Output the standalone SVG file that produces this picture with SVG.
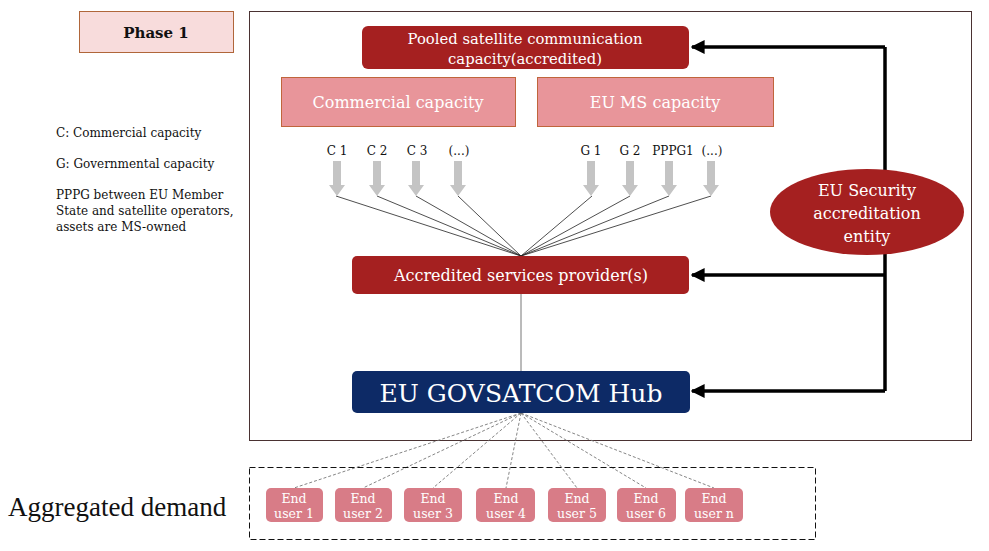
<svg xmlns="http://www.w3.org/2000/svg" width="989" height="551" viewBox="0 0 989 551">
<defs>
<style>
.serif{font-family:"DejaVu Serif","Liberation Serif",serif;}
.times{font-family:"Liberation Serif",serif;}
.wt{fill:#ffffff;text-anchor:middle;}
.dark{fill:#a52020;}
.pink{fill:#e8959a;stroke:#c0653c;stroke-width:1;}
.eu{fill:#d87c87;}
.lab{font-family:"DejaVu Serif","Liberation Serif",serif;font-size:12px;fill:#111;}
.leg{font-family:"DejaVu Serif","Liberation Serif",serif;font-size:12px;fill:#111;}
.fan{stroke:#222;stroke-width:0.8;fill:none;}
.dash{stroke:#777;stroke-width:0.9;stroke-dasharray:3,2;fill:none;}
.acc{stroke:#000;stroke-width:3.5;fill:none;}
</style>
<marker id="ah" viewBox="0 0 10 10" refX="9" refY="5" markerWidth="4" markerHeight="4" orient="auto-start-reverse" markerUnits="strokeWidth">
<path d="M0,0 L10,5 L0,10 z" fill="#000"/>
</marker>
<path id="garrow" d="M-4,0 L4,0 L4,24 L8,24 L0,35 L-8,24 L-4,24 z" fill="#c4c4c4"/>
</defs>
<rect width="989" height="551" fill="#ffffff"/>

<g id="phase">
<rect x="79.5" y="11.5" width="154" height="41" fill="#f8dcdc" stroke="#b0663a" stroke-width="1"/>
<text x="156" y="38" class="serif" font-size="15" font-weight="bold" text-anchor="middle" fill="#111">Phase 1</text>
</g>

<g id="frame">
<rect x="249.5" y="11.5" width="722" height="429" fill="none" stroke="#4a3232" stroke-width="1"/>
</g>

<g id="legend">
<text x="56" y="137" class="leg">C: Commercial capacity</text>
<text x="56" y="168" class="leg">G: Governmental capacity</text>
<text x="56" y="199" class="leg">PPPG between EU Member</text>
<text x="56" y="215" class="leg">State and satellite operators,</text>
<text x="56" y="231" class="leg">assets are MS-owned</text>
</g>

<g id="connectors">
<path class="fan" d="M336,196 L521,256 M377,196 L521,256 M416,196 L521,256 M458,196 L521,256 M592,196 L521,256 M630,196 L521,256 M669,196 L521,256 M711,196 L521,256"/>
<line x1="521" y1="294" x2="521" y2="371" stroke="#777" stroke-width="1"/>
<path class="dash" d="M521,413 L294,488 M521,413 L363,488 M521,413 L433,488 M521,413 L506,488 M521,413 L577,488 M521,413 L646,488 M521,413 L714,488"/>
<path class="acc" d="M885,47 L885,391"/>
<path class="acc" d="M885,47 L692,47" marker-end="url(#ah)"/>
<path class="acc" d="M885,275 L692,275" marker-end="url(#ah)"/>
<path class="acc" d="M885,391 L692,391" marker-end="url(#ah)"/>
</g>

<g id="pooled">
<rect x="362" y="26" width="327" height="43" rx="6" class="dark"/>
<text x="525" y="44" class="serif wt" font-size="14.8">Pooled satellite communication</text>
<text x="525" y="64" class="serif wt" font-size="14.8">capacity(accredited)</text>
</g>

<g id="commercial">
<rect x="281.5" y="77.5" width="234" height="49" class="pink"/>
<text x="398" y="108" class="serif wt" font-size="16">Commercial capacity</text>
</g>

<g id="eums">
<rect x="537.5" y="77.5" width="236" height="49" class="pink"/>
<text x="655" y="108" class="serif wt" font-size="16">EU MS capacity</text>
</g>

<g id="sources">
<text x="337" y="155" class="lab" text-anchor="middle">C 1</text>
<text x="377" y="155" class="lab" text-anchor="middle">C 2</text>
<text x="417" y="155" class="lab" text-anchor="middle">C 3</text>
<text x="459" y="155" class="lab" text-anchor="middle">(...)</text>
<text x="591" y="155" class="lab" text-anchor="middle">G 1</text>
<text x="630" y="155" class="lab" text-anchor="middle">G 2</text>
<text x="673" y="155" class="lab" text-anchor="middle">PPPG1</text>
<text x="712" y="155" class="lab" text-anchor="middle">(...)</text>
<use href="#garrow" x="337" y="161"/>
<use href="#garrow" x="377" y="161"/>
<use href="#garrow" x="416" y="161"/>
<use href="#garrow" x="458" y="161"/>
<use href="#garrow" x="591" y="161"/>
<use href="#garrow" x="630" y="161"/>
<use href="#garrow" x="669" y="161"/>
<use href="#garrow" x="711" y="161"/>
</g>

<g id="provider">
<rect x="352" y="256" width="337" height="38" rx="5" class="dark"/>
<text x="521" y="281" class="serif wt" font-size="16">Accredited services provider(s)</text>
</g>

<g id="hub">
<rect x="352" y="371" width="338" height="42" rx="5" fill="#0d2a66"/>
<text x="521" y="402" class="serif wt" font-size="25">EU GOVSATCOM Hub</text>
</g>

<g id="security">
<ellipse cx="867" cy="212" rx="97" ry="43" class="dark"/>
<text x="867" y="196" class="serif wt" font-size="16">EU Security</text>
<text x="867" y="219" class="serif wt" font-size="16">accreditation</text>
<text x="867" y="242" class="serif wt" font-size="16">entity</text>
</g>

<g id="demand">
<rect x="249.5" y="467.5" width="566" height="72" fill="none" stroke="#111" stroke-width="1" stroke-dasharray="6,3"/>
<text x="8" y="516" class="times" font-size="27" fill="#111">Aggregated demand</text>
</g>

<g id="u1"><rect x="266" y="488" width="57" height="34" rx="5" class="eu"/><text x="294" y="503" class="serif wt" font-size="12.5">End</text><text x="294" y="518" class="serif wt" font-size="12.5">user 1</text></g>
<g id="u2"><rect x="335" y="488" width="57" height="34" rx="5" class="eu"/><text x="363" y="503" class="serif wt" font-size="12.5">End</text><text x="363" y="518" class="serif wt" font-size="12.5">user 2</text></g>
<g id="u3"><rect x="404" y="488" width="58" height="34" rx="5" class="eu"/><text x="433" y="503" class="serif wt" font-size="12.5">End</text><text x="433" y="518" class="serif wt" font-size="12.5">user 3</text></g>
<g id="u4"><rect x="476" y="488" width="59" height="34" rx="5" class="eu"/><text x="506" y="503" class="serif wt" font-size="12.5">End</text><text x="506" y="518" class="serif wt" font-size="12.5">user 4</text></g>
<g id="u5"><rect x="548" y="488" width="58" height="34" rx="5" class="eu"/><text x="577" y="503" class="serif wt" font-size="12.5">End</text><text x="577" y="518" class="serif wt" font-size="12.5">user 5</text></g>
<g id="u6"><rect x="617" y="488" width="59" height="34" rx="5" class="eu"/><text x="646" y="503" class="serif wt" font-size="12.5">End</text><text x="646" y="518" class="serif wt" font-size="12.5">user 6</text></g>
<g id="un"><rect x="685" y="488" width="58" height="34" rx="5" class="eu"/><text x="714" y="503" class="serif wt" font-size="12.5">End</text><text x="714" y="518" class="serif wt" font-size="12.5">user n</text></g>
</svg>
